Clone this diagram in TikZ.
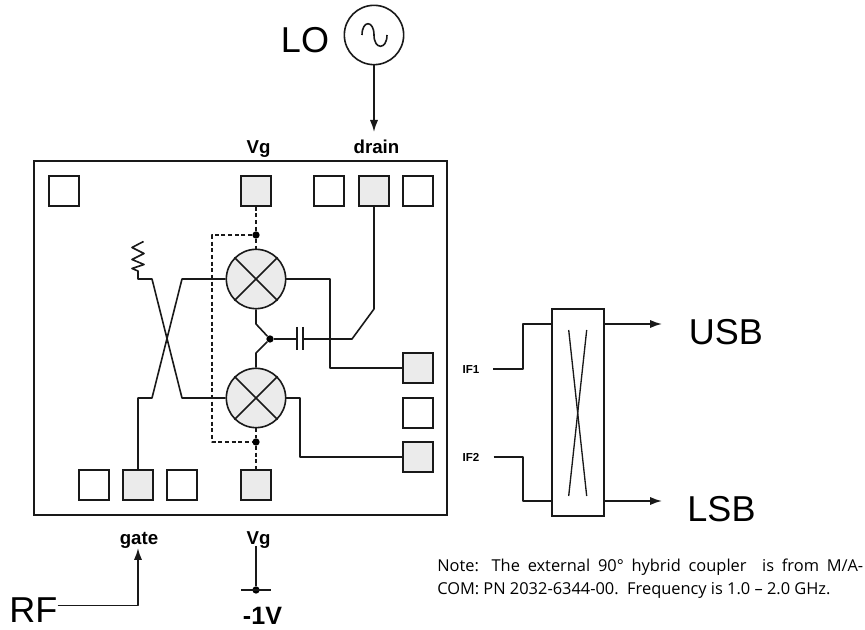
\documentclass[tikz,border=0pt]{standalone}
\usepackage{fontspec}
\setmainfont{Liberation Sans}
\newfontfamily\notefont{Open Sans}
\usetikzlibrary{arrows.meta}
\tikzset{
  wire/.style={draw=black!90,line width=1.2pt,line join=round},
  dash wire/.style={wire,line width=1.1pt,dash pattern=on 3pt off 2pt},
  arrowed/.style={wire,-{Latex[length=9pt,width=6.2pt]}},
  pad/.style={draw=black!90,line width=1.2pt,minimum size=22.5pt,inner sep=0pt},
  padg/.style={pad,fill=black!8},
  mixer/.style={circle,draw=black!90,line width=1.2pt,fill=black!8,minimum size=44.5pt,inner sep=0pt},
  dotn/.style={circle,fill=black,minimum size=5.5pt,inner sep=0pt},
  big/.style={inner sep=0pt,anchor=base,font=\fontsize{27pt}{27pt}\selectfont},
  lab/.style={inner sep=0pt,anchor=base,font=\fontsize{14pt}{16pt}\selectfont\bfseries},
  tiny/.style={inner sep=0pt,anchor=base,font=\fontsize{8.7pt}{10pt}\selectfont\bfseries},
  note/.style={anchor=base west,inner sep=0pt,font=\notefont\fontsize{12.3pt}{14pt}\selectfont},
}
\begin{document}
\begin{tikzpicture}[x=0.75pt,y=-0.75pt]
\useasboundingbox (0,0) rectangle (865,630);
\node[draw=black!90,line width=1.2pt,minimum width=309.75pt,minimum height=265.5pt,inner sep=0pt] (chip) at (240.5,338) {};
% pads
\node[pad] (p1) at (64,191) {};
\node[padg] (vgt) at (256,191) {};
\node[pad] (p2) at (329,191) {};
\node[padg] (dr) at (374,191) {};
\node[pad] (p3) at (418,191) {};
\node[padg] (if1p) at (418,368) {};
\node[pad] (p4) at (418,413) {};
\node[padg] (if2p) at (418,457) {};
\node[pad] (p5) at (94,485) {};
\node[padg] (gt) at (138,485) {};
\node[pad] (p6) at (182,485) {};
\node[padg] (vgb) at (256,485) {};
% dashed bias
\node[dotn] (d1) at (256,235) {};
\node[dotn] (d2) at (256,442) {};
\node[dotn] (dc) at (270,339) {};
\draw[dash wire] (vgt.south) -- (d1);
\draw[dash wire] (d2) -- (vgb.north);
\draw[dash wire] (d1) -- (212,235) -- (212,442) -- (d2);
% mixers
\node[mixer] (m1) at (256,279) {};
\node[mixer] (m2) at (256,398) {};
\draw[dash wire] (d1) -- (m1.north);
\draw[dash wire] (m2.south) -- (d2);
\foreach \m in {m1,m2}{
  \draw[wire] (\m.45) -- (\m.225);
  \draw[wire] (\m.135) -- (\m.315);
}
% center
\draw[wire] (m1.south) -- (256,324) -- (dc);
\draw[wire] (m2.north) -- (256,353) -- (dc);
\coordinate (c1) at (297,339);
\coordinate (c2) at (303,339);
\draw[wire] (dc) -- (c1);
\draw[wire] (297,327) -- (297,350);
\draw[wire] (303,327) -- (303,350);
\draw[wire] (c2) -- (352,339) -- (374,309) -- (dr.south);
% outputs
\draw[wire] (m1.east) -- (330,279) -- (330,368) -- (if1p.west);
\draw[wire] (m2.east) -- (300,398) -- (300,457) -- (if2p.west);
% cross
\draw[wire] (m1.west) -- (182,279) -- (152,398) -- (138,398) -- (gt.north);
\draw[wire] (m2.west) -- (182,398) -- (152,279) -- (138,279) -- (138,271)
  -- (132,268.5) -- (144,264.5) -- (132,259.5) -- (144,253.5) -- (132,247.5) -- (143.5,241.5);
% coupler
\node[draw=black!90,line width=1.2pt,minimum width=38.75pt,minimum height=155.25pt,inner sep=0pt] (cp) at (578,412.5) {};
\draw[wire,line width=1pt] (568.7,330) -- (586.7,496);
\draw[wire,line width=1pt] (586.7,330) -- (568.7,496);
\coordinate (i1) at (493,369);
\coordinate (i2) at (493.5,457);
\draw[wire] (i1) -- (522.7,369) -- (522.7,324) -- (552,324);
\draw[wire] (i2) -- (522.7,457) -- (522.7,501) -- (552,501);
\coordinate (uo) at (662,324);
\coordinate (lo2) at (662,501);
\draw[arrowed] (603.7,324) -- (uo);
\draw[arrowed] (603.7,501) -- (lo2);
\node[big] (usb) at (726,345) {USB};
\node[big] (lsb) at (721.5,522) {LSB};
\node[tiny] (if1) at (471,374) {IF1};
\node[tiny] (if2) at (471,462) {IF2};
% LO
\node[circle,draw=black!90,line width=1.2pt,minimum size=44.5pt,inner sep=0pt] (losrc) at (374,35) {};
\draw[wire] (362,35) .. controls (362,20) and (374,20) .. (374,35) .. controls (374,50) and (387,50) .. (387,35);
\node[big] (lo) at (305,53) {LO};
\coordinate (lot) at (374,132);
\draw[arrowed] (losrc.south) -- (lot);
\node[lab] (drl) at (376.5,154) {drain};
\node[lab] (vgl) at (258.5,154) {Vg};
% bottom
\node[lab] (gl) at (139,545) {gate};
\node[lab] (vgl2) at (258.5,545) {Vg};
\node[dotn] (vd) at (256,590) {};
\draw[wire] (256,546) -- (vd);
\draw[wire] (241,590) -- (271,590);
\begin{scope}
\clip (200,600) rectangle (320,623.5);
\node[inner sep=0pt,anchor=base,font=\fontsize{18.8pt}{20pt}\selectfont\bfseries] (m1v) at (262.5,625) {-1V};
\end{scope}
\node[big,anchor=base west] (rf) at (9,623) {RF};
\coordinate (ga) at (138,548);
\draw[arrowed] (rf.base east |- 0,605.7) -- (138,605.7) -- (ga);
% note
\node[note] (n1) at (437,571.7) {\makebox[319.5pt][s]{Note: The external 90° hybrid coupler\ \ is from M/A-}};
\node[note] (n2) at (437,594.3) {COM: PN 2032-6344-00.\ \ Frequency is 1.0 – 2.0 GHz.};
\end{tikzpicture}
\end{document}
